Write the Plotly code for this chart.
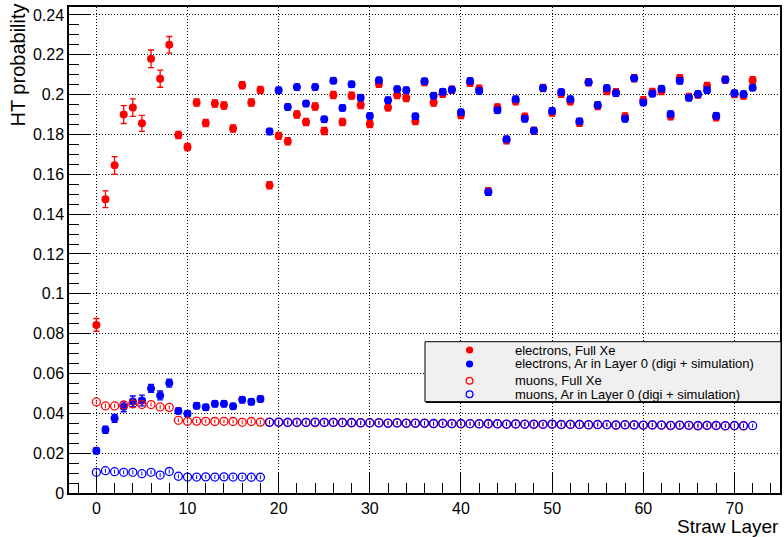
import plotly.graph_objects as go

# ---------------- data ----------------
layers = list(range(73))

ele_xe = [0.0844, 0.1475, 0.1645, 0.1900, 0.1935, 0.1856, 0.2180, 0.2080, 0.2250, 0.1797,
          0.1737, 0.1960, 0.1858, 0.1955, 0.1945, 0.1830, 0.2047, 0.1960, 0.2023, 0.1545,
          0.1793, 0.1766, 0.1900, 0.1863, 0.1940, 0.1818, 0.1998, 0.1863, 0.1995, 0.1948,
          0.1853, 0.2055, 0.1936, 0.1998, 0.1983, 0.1868, 0.2063, 0.1960, 0.2005, 0.2025,
          0.1898, 0.2059, 0.2030, 0.1515, 0.1935, 0.1771, 0.1967, 0.1889, 0.1819, 0.2033,
          0.1910, 0.2005, 0.1967, 0.1859, 0.2062, 0.1943, 0.2018, 0.2012, 0.1890, 0.2082,
          0.1972, 0.2013, 0.2018, 0.1891, 0.2082, 0.1988, 0.2000, 0.2044, 0.1886, 0.2075,
          0.2003, 0.1995, 0.2072]
ele_xe_err = [0.0032, 0.0042, 0.0044, 0.0045, 0.0044, 0.0040, 0.0044, 0.0043, 0.0042] + [0.0018] * 64

ele_ar = [0.0212, 0.0318, 0.0375, 0.0433, 0.0460, 0.0464, 0.0525, 0.0490, 0.0552, 0.0412,
          0.0398, 0.0438, 0.0430, 0.0448, 0.0448, 0.0435, 0.0468, 0.0458, 0.0472,
          0.1815, 0.2022, 0.1938, 0.2038, 0.1955, 0.2038, 0.1876, 0.2070, 0.1933, 0.2052,
          0.1985, 0.1893, 0.2072, 0.1972, 0.2027, 0.2022, 0.1891, 0.2067, 0.1995, 0.2015,
          0.2025, 0.1911, 0.2069, 0.2018, 0.1510, 0.1921, 0.1776, 0.1977, 0.1879, 0.1819,
          0.2033, 0.1918, 0.2013, 0.1977, 0.1866, 0.2062, 0.1948, 0.2033, 0.2007, 0.1879,
          0.2082, 0.1960, 0.2005, 0.2030, 0.1903, 0.2069, 0.1985, 0.2003, 0.2022, 0.1894,
          0.2075, 0.2007, 0.2003, 0.2035]
ele_ar_err = [0.0015, 0.0018, 0.0020, 0.0025, 0.0027, 0.0027, 0.0020, 0.0022, 0.0020] + [0.0015] * 64

mu_xe = [0.0457, 0.0437, 0.0437, 0.0442, 0.0447, 0.0444, 0.0444, 0.0432, 0.0430,
         0.0365, 0.0360, 0.0361, 0.0360, 0.0359, 0.0360, 0.0359, 0.0355, 0.0359, 0.0356,
         0.0356, 0.0355, 0.0355, 0.0354, 0.0355, 0.0353, 0.0355, 0.0354, 0.0354, 0.0352,
         0.0353, 0.0352, 0.0353, 0.0350, 0.0352, 0.0351, 0.0350, 0.0351, 0.0348, 0.0349,
         0.0349, 0.0347, 0.0348, 0.0348, 0.0346, 0.0348, 0.0345, 0.0346, 0.0346, 0.0344,
         0.0345, 0.0345, 0.0343, 0.0344, 0.0344, 0.0342, 0.0343, 0.0343, 0.0340, 0.0342,
         0.0342, 0.0340, 0.0341, 0.0341, 0.0338, 0.0340, 0.0340, 0.0337, 0.0339, 0.0339,
         0.0337, 0.0338, 0.0337]
mu_ar = [0.0104, 0.0112, 0.0107, 0.0104, 0.0104, 0.0097, 0.0104, 0.0090, 0.0108, 0.0084,
         0.0080, 0.0080, 0.0081, 0.0080, 0.0081, 0.0080, 0.0080, 0.0079, 0.0079,
         0.0355, 0.0356, 0.0354, 0.0355, 0.0354, 0.0356, 0.0354, 0.0355, 0.0353, 0.0354,
         0.0352, 0.0353, 0.0352, 0.0351, 0.0352, 0.0350, 0.0351, 0.0350, 0.0349, 0.0350,
         0.0348, 0.0349, 0.0348, 0.0347, 0.0349, 0.0347, 0.0346, 0.0347, 0.0345, 0.0346,
         0.0345, 0.0346, 0.0344, 0.0345, 0.0344, 0.0343, 0.0344, 0.0343, 0.0342, 0.0343,
         0.0342, 0.0341, 0.0342, 0.0341, 0.0340, 0.0341, 0.0340, 0.0339, 0.0340, 0.0339,
         0.0338, 0.0339, 0.0338, 0.0338]
mu_err = [0.0010] * 73

legend_labels = ["electrons, Full Xe",
                 "electrons, Ar in Layer 0 (digi + simulation)",
                 "muons, Full Xe",
                 "muons, Ar in Layer 0 (digi + simulation)"]

x_ticks = [0, 10, 20, 30, 40, 50, 60, 70]

# ---------------- figure ----------------
FONT = "Liberation Sans, Arial, Helvetica, sans-serif"
RED = "#ff0000"
BLUE = "#0000ff"

fig = go.Figure()

fig.add_trace(go.Scatter(
    x=layers, y=ele_xe, mode="markers", name=legend_labels[0],
    marker=dict(symbol="circle", size=8, color=RED, line=dict(width=0)),
    error_y=dict(type="data", array=ele_xe_err, color=RED, thickness=1.3, width=3)))
fig.add_trace(go.Scatter(
    x=layers, y=ele_ar, mode="markers", name=legend_labels[1],
    marker=dict(symbol="circle", size=8, color=BLUE, line=dict(width=0)),
    error_y=dict(type="data", array=ele_ar_err, color=BLUE, thickness=1.3, width=3)))
fig.add_trace(go.Scatter(
    x=layers, y=mu_xe, mode="markers", name=legend_labels[2],
    marker=dict(symbol="circle-open", size=8, color=RED, line=dict(width=1.3, color=RED)),
    error_y=dict(type="data", array=mu_err, color=RED, thickness=1, width=0)))
fig.add_trace(go.Scatter(
    x=layers, y=mu_ar, mode="markers", name=legend_labels[3],
    marker=dict(symbol="circle-open", size=8, color=BLUE, line=dict(width=1.3, color=BLUE)),
    error_y=dict(type="data", array=mu_err, color=BLUE, thickness=1, width=0)))

axis_common = dict(
    showline=True, linecolor="black", linewidth=1.5, mirror=True,
    showgrid=True, gridcolor="black", gridwidth=1, griddash="1px,2px",
    zeroline=False, ticks="inside", ticklen=21, tickwidth=1.2, tickcolor="black",
    tickfont=dict(family=FONT, size=16, color="black"),
)

fig.update_xaxes(range=[-3, 75], tickmode="array", tickvals=x_ticks,
                 minor=dict(dtick=2, tick0=0, ticks="inside", ticklen=10, tickwidth=1.2,
                            tickcolor="black", showgrid=False),
                 **axis_common)
fig.update_yaxes(range=[0, 0.244], dtick=0.02, tick0=0,
                 minor=dict(dtick=0.005, tick0=0, ticks="inside", ticklen=10, tickwidth=1.2,
                            tickcolor="black", showgrid=False),
                 **axis_common)

# plot area in pixels: left 69, right 782, top 7, bottom 493
PL, PR, PT, PB = 69, 782, 7, 493
W, H = 784, 537


def px_to_paper(px, py):
    return (px - PL) / (PR - PL), (PB - py) / (PB - PT)


shapes = []
annotations = []

# legend box
bx0, by1 = px_to_paper(426, 341.7)
bx1, by0 = px_to_paper(783, 401.7)
shapes.append(dict(type="rect", xref="paper", yref="paper", x0=bx0, x1=bx1, y0=by0, y1=by1,
                   fillcolor="#f0f0f0", line=dict(color="black", width=1), layer="above"))
sx0, sy = px_to_paper(427, 402.2)
shapes.append(dict(type="line", xref="paper", yref="paper", x0=sx0, x1=bx1, y0=sy, y1=sy,
                   line=dict(color="black", width=1.5), layer="above"))

entry_py = [350.0, 364.0, 380.7, 394.3]
marker_styles = [(RED, True), (BLUE, True), (RED, False), (BLUE, False)]
mx, _ = px_to_paper(470.7, 0)
tx, _ = px_to_paper(514, 0)
for label, py, (col, filled) in zip(legend_labels, entry_py, marker_styles):
    _, yy = px_to_paper(0, py)
    shapes.append(dict(type="circle", xref="paper", yref="paper",
                       xsizemode="pixel", ysizemode="pixel", xanchor=mx, yanchor=yy,
                       x0=-3.6 if filled else -3.4, x1=3.6 if filled else 3.4,
                       y0=-3.6 if filled else -3.4, y1=3.6 if filled else 3.4,
                       fillcolor=col if filled else "rgba(0,0,0,0)",
                       line=dict(color=col, width=0 if filled else 1.3), layer="above"))
    annotations.append(dict(xref="paper", yref="paper", x=tx, y=yy, xanchor="left",
                            yanchor="middle", text=label, showarrow=False,
                            font=dict(family=FONT, size=13, color="black")))

# axis titles
annotations.append(dict(xref="paper", yref="paper", x=0, y=1, xshift=-(PL - 17),
                        yshift=5, xanchor="center", yanchor="top", textangle=-90,
                        text="HT probability", showarrow=False,
                        font=dict(family=FONT, size=20, color="black")))
annotations.append(dict(xref="paper", yref="paper", x=1, y=0, xshift=1, yshift=-33,
                        xanchor="right", yanchor="middle",
                        text="Straw Layer", showarrow=False,
                        font=dict(family=FONT, size=19, color="black")))

fig.update_layout(
    width=W, height=H,
    margin=dict(l=PL, r=W - PR, t=PT, b=H - PB, pad=0),
    paper_bgcolor="white", plot_bgcolor="white",
    showlegend=False,
    shapes=shapes, annotations=annotations,
    font=dict(family=FONT, color="black"),
)

fig.write_html("out.html")
